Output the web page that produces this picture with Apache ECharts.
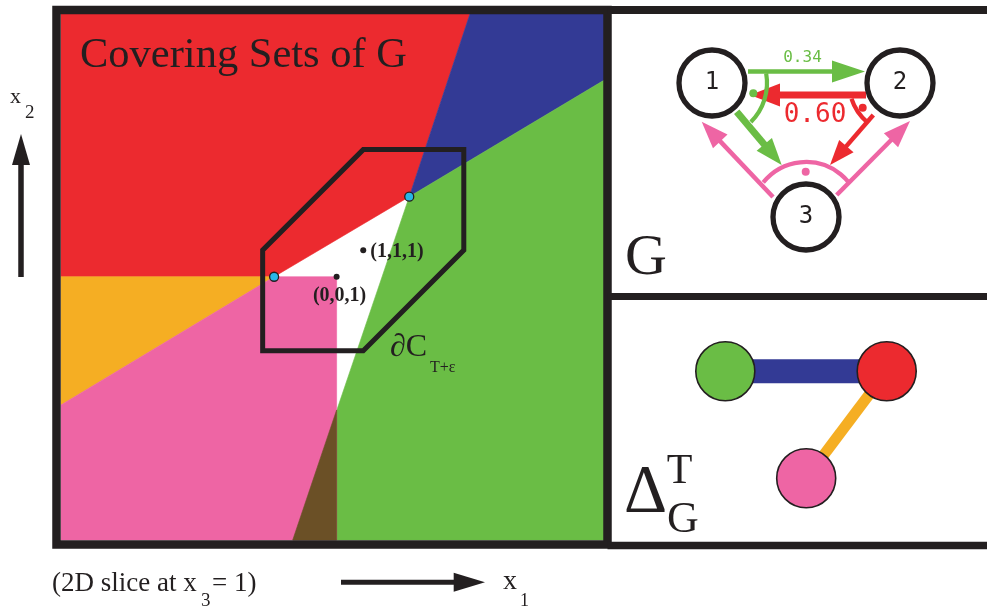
<!DOCTYPE html>
<html>
<head>
<meta charset="utf-8">
<script src="https://cdn.jsdelivr.net/npm/echarts@6/dist/echarts.min.js"></script>
<style>
html,body{margin:0;padding:0;background:#fff;}
#c{width:987px;height:609px;}
</style>
</head>
<body>
<div id="c"></div>
<script>
// ---------- slice x3 = 1 : covering sets, in (x1, x2) units ----------
const xRange = [-10.36, 10.05];
const yRange = [-9.9, 9.88];
const redRegion    = [[-10.36, 9.88], [5.01, 9.88], [2.73, 3.01], [-2.35, 0], [-10.36, 0]];
const blueRegion   = [[5.01, 9.88], [10.05, 9.88], [10.05, 7.39], [2.73, 3.01]];
const greenRegion  = [[2.73, 3.01], [10.05, 7.39], [10.05, -9.9], [-1.65, -9.9]];
const orangeRegion = [[-10.36, 0], [-2.35, 0], [-10.36, -4.82]];
const pinkRegion   = [[-10.36, -4.82], [-2.35, 0], [0, 0], [0, -9.9], [-10.36, -9.9]];
const brownRegion  = [[0, -5.01], [0, -9.9], [-1.65, -9.9]];
const boundaryC    = [[-2.78, 1], [1, 4.78], [4.78, 4.78], [4.78, 1], [1, -2.78], [-2.78, -2.78]];
const cornerPoints = [[2.73, 3.01], [-2.35, 0]];
const namedPoints  = [[1, 1], [0, 0]];
const namedLabels  = ['(1,1,1)', '(0,0,1)'];

// ---------- game graph G ----------
const gNodePos   = [[101, 69], [289, 69], [195, 203]];
const gNodeText  = ['1', '2', '3'];
const gArrowTail = [[137, 57.5], [255, 81], [125.7, 97.7], [262.3, 101], [162, 183], [225.7, 181]];
const gArrowTip  = [[254, 57.5], [139, 81], [170.7, 151], [219, 151], [90.7, 107.7], [299, 107]];
const gWeights   = ['0.34', '0.60'];
const gWeightPos = [[191.5, 43.5], [204, 101]];
const gArcs      = [[0, 55, -10, 45], [1, 51, 130, 162], [2, 55, -141, -39]]; // node, radius, from°, to°
const gArcDots   = [[142.3, 79.3], [251.7, 93.7], [194.7, 157.7]];

// ---------- covering graph Δ ----------
const dNodePos = [[114.3, 71.2], [275.7, 71.2], [195.2, 178.3]];
const dEdges   = [[0, 1], [1, 2]];

// colours and styles
const INK = '#231f20';
const RED = '#ec2a2f', BLUE = '#333a95', GREEN = '#6abd45', ORANGE = '#f5ae23', PINK = '#ee65a4', BROWN = '#6b5026', CYAN = '#27b5e8';
const regions = [redRegion, blueRegion, greenRegion, orangeRegion, pinkRegion, brownRegion];
const regionColors = [RED, BLUE, GREEN, ORANGE, PINK, BROWN];
const gArrowColor = [GREEN, RED, GREEN, RED, PINK, PINK];
const gArrowWidth = [4.5, 7, 7, 4.5, 4.5, 4.5];
const gArrowHead  = [[33, 22], [30, 23], [27, 20], [25, 19], [27, 20], [27, 20]];
const gWeightColor = [GREEN, RED];
const gWeightSize  = [16, 26];
const gArcColor = [GREEN, RED, PINK];
const dNodeColor = [GREEN, RED, PINK];
const dEdgeColor = [BLUE, ORANGE];
const dEdgeWidth = [24, 11];
const SERIF = '"Liberation Serif", "Times New Roman", serif';
const MONO = '"DejaVu Sans Mono", monospace';

function arrow(api, tail, tip, w, hl, hw, color) {
  const p0 = api.coord(tail), p1 = api.coord(tip);
  const dx = p1[0] - p0[0], dy = p1[1] - p0[1], L = Math.hypot(dx, dy);
  const ux = dx / L, uy = dy / L;
  const bx = p1[0] - ux * hl, by = p1[1] - uy * hl;
  return {
    type: 'group', children: [
      { type: 'line', shape: { x1: p0[0], y1: p0[1], x2: bx + ux, y2: by + uy }, style: { stroke: color, lineWidth: w } },
      { type: 'polygon', shape: { points: [[p1[0], p1[1]], [bx - uy * hw / 2, by + ux * hw / 2], [bx + uy * hw / 2, by - ux * hw / 2]] }, style: { fill: color } }
    ]
  };
}

function txt(x, y, text, size, extra) {
  return Object.assign({
    type: 'text', x: x, y: y, z: 120,
    style: { text: text, fontFamily: SERIF, fontSize: size, fill: INK, align: 'left', verticalAlign: 'middle' }
  }, extra || {});
}

const chart = echarts.init(document.getElementById('c'), null, { renderer: 'canvas' });

const hidden = { show: false };
const solid = { opacity: 1 };
const option = {
  animation: false,
  backgroundColor: '#ffffff',
  grid: [
    { left: 61, top: 14, width: 543, height: 526 },
    { left: 611, top: 14, width: 376, height: 279 },
    { left: 611, top: 300, width: 376, height: 241 }
  ],
  xAxis: [
    { type: 'value', gridIndex: 0, min: xRange[0], max: xRange[1], axisLine: hidden, axisTick: hidden, axisLabel: hidden, splitLine: hidden },
    { type: 'value', gridIndex: 1, min: 0, max: 376, show: false },
    { type: 'value', gridIndex: 2, min: 0, max: 376, show: false }
  ],
  yAxis: [
    { type: 'value', gridIndex: 0, min: yRange[0], max: yRange[1], axisLine: hidden, axisTick: hidden, axisLabel: hidden, splitLine: hidden },
    { type: 'value', gridIndex: 1, min: 0, max: 279, inverse: true, show: false },
    { type: 'value', gridIndex: 2, min: 0, max: 241, inverse: true, show: false }
  ],
  series: [
    // covering-set regions
    {
      type: 'custom', xAxisIndex: 0, yAxisIndex: 0, silent: true, z: 1,
      data: regions.map(r => r[0]),
      renderItem: (params, api) => {
        const i = params.dataIndex;
        return {
          type: 'polygon',
          shape: { points: regions[i].map(p => api.coord(p)) },
          style: { fill: regionColors[i], stroke: regionColors[i], lineWidth: 0.6 }
        };
      }
    },
    // boundary of C_{T+eps}
    {
      type: 'custom', xAxisIndex: 0, yAxisIndex: 0, silent: true, z: 3,
      data: [boundaryC[0]],
      renderItem: (params, api) => ({
        type: 'polygon',
        shape: { points: boundaryC.map(p => api.coord(p)) },
        style: { fill: 'none', stroke: INK, lineWidth: 5, lineJoin: 'miter' }
      })
    },
    // corner points
    {
      type: 'scatter', xAxisIndex: 0, yAxisIndex: 0, silent: true, z: 4,
      symbolSize: 9, itemStyle: { color: CYAN, borderColor: INK, borderWidth: 1.3, opacity: 1 },
      data: cornerPoints
    },
    // labelled points
    {
      type: 'scatter', xAxisIndex: 0, yAxisIndex: 0, silent: true, z: 4,
      symbolSize: 6, itemStyle: { color: INK, opacity: 1 },
      label: {
        show: true, fontFamily: SERIF, fontWeight: 'bold', fontSize: 20, color: INK,
        formatter: p => namedLabels[p.dataIndex]
      },
      data: [
        { value: namedPoints[0], label: { position: 'right', distance: 4, offset: [0, 2] } },
        { value: namedPoints[1], label: { position: 'bottom', distance: 6, offset: [3, 0] } }
      ]
    },
    // G: arrows
    {
      type: 'custom', xAxisIndex: 1, yAxisIndex: 1, silent: true, z: 2,
      data: gArrowTail,
      renderItem: (params, api) => {
        const i = params.dataIndex;
        return arrow(api, gArrowTail[i], gArrowTip[i], gArrowWidth[i], gArrowHead[i][0], gArrowHead[i][1], gArrowColor[i]);
      }
    },
    // G: strategy arcs
    {
      type: 'custom', xAxisIndex: 1, yAxisIndex: 1, silent: true, z: 2,
      data: gArcs.map(a => gNodePos[a[0]]),
      renderItem: (params, api) => {
        const a = gArcs[params.dataIndex];
        const c = api.coord(gNodePos[a[0]]);
        const r = api.size([a[1], 0])[0];
        return {
          type: 'arc',
          shape: { cx: c[0], cy: c[1], r: r, startAngle: a[2] * Math.PI / 180, endAngle: a[3] * Math.PI / 180, clockwise: true },
          style: { fill: 'none', stroke: gArcColor[params.dataIndex], lineWidth: 4.2 }
        };
      }
    },
    {
      type: 'scatter', xAxisIndex: 1, yAxisIndex: 1, silent: true, z: 3,
      symbolSize: 8,
      data: gArcDots.map((p, i) => ({ value: p, itemStyle: { color: gArcColor[i], opacity: 1 } }))
    },
    // G: edge weights
    {
      type: 'scatter', xAxisIndex: 1, yAxisIndex: 1, silent: true, z: 3,
      symbolSize: 0, itemStyle: solid,
      data: gWeightPos.map((p, i) => ({
        value: p,
        label: { show: true, position: 'inside', formatter: gWeights[i], fontFamily: MONO, fontSize: gWeightSize[i], color: gWeightColor[i] }
      }))
    },
    // G: nodes
    {
      type: 'scatter', xAxisIndex: 1, yAxisIndex: 1, silent: true, z: 5,
      symbolSize: 66,
      itemStyle: { color: '#ffffff', borderColor: INK, borderWidth: 5.3, opacity: 1 },
      label: { show: true, position: 'inside', formatter: p => gNodeText[p.dataIndex], fontFamily: MONO, fontSize: 24, color: INK },
      data: gNodePos
    },
    // Δ: edges
    {
      type: 'custom', xAxisIndex: 2, yAxisIndex: 2, silent: true, z: 2,
      data: dEdges.map(e => dNodePos[e[0]]),
      renderItem: (params, api) => {
        const e = dEdges[params.dataIndex];
        const a = api.coord(dNodePos[e[0]]), b = api.coord(dNodePos[e[1]]);
        return {
          type: 'line', shape: { x1: a[0], y1: a[1], x2: b[0], y2: b[1] },
          style: { stroke: dEdgeColor[params.dataIndex], lineWidth: dEdgeWidth[params.dataIndex] }
        };
      }
    },
    // Δ: nodes
    {
      type: 'scatter', xAxisIndex: 2, yAxisIndex: 2, silent: true, z: 4,
      symbolSize: 59,
      data: dNodePos.map((p, i) => ({ value: p, itemStyle: { color: dNodeColor[i], borderColor: INK, borderWidth: 1.6, opacity: 1 } }))
    }
  ],
  graphic: [
    // frames
    { type: 'rect', z: 100, shape: { x: 56.5, y: 10, width: 551, height: 534.5 }, style: { fill: 'none', stroke: INK, lineWidth: 8.5 } },
    { type: 'line', z: 100, shape: { x1: 607.5, y1: 10, x2: 990, y2: 10 }, style: { stroke: INK, lineWidth: 8 } },
    { type: 'line', z: 100, shape: { x1: 607.5, y1: 296.5, x2: 990, y2: 296.5 }, style: { stroke: INK, lineWidth: 7 } },
    { type: 'line', z: 100, shape: { x1: 607.5, y1: 545.5, x2: 990, y2: 545.5 }, style: { stroke: INK, lineWidth: 7.6 } },
    // axis direction arrows
    { type: 'line', z: 100, shape: { x1: 21, y1: 277, x2: 21, y2: 160 }, style: { stroke: INK, lineWidth: 5.5 } },
    { type: 'polygon', z: 100, shape: { points: [[21, 134], [12, 165], [30, 165]] }, style: { fill: INK } },
    { type: 'line', z: 100, shape: { x1: 341, y1: 582.3, x2: 458, y2: 582.3 }, style: { stroke: INK, lineWidth: 5 } },
    { type: 'polygon', z: 100, shape: { points: [[485, 582.3], [453.7, 572.8], [453.7, 591.8]] }, style: { fill: INK } },
    // texts
    txt(80, 55.8, 'Covering Sets of G', 42.5),
    txt(390, 347.3, '\u2202C', 32),
    txt(430, 368, 'T+\u03b5', 16),
    txt(10, 97, 'x', 22),
    txt(25, 113.5, '2', 19),
    txt(503, 582, 'x', 28),
    txt(520, 601, '1', 18),
    txt(52, 584, '(2D slice at x', 27),
    txt(201, 601, '3', 19),
    txt(212, 584, '= 1)', 27),
    txt(625, 259, 'G', 58),
    txt(624, 493.3, '\u0394', 67),
    txt(666.7, 472.3, 'T', 42),
    txt(667, 520, 'G', 44)
  ]
};
chart.setOption(option);
</script>
</body>
</html>
